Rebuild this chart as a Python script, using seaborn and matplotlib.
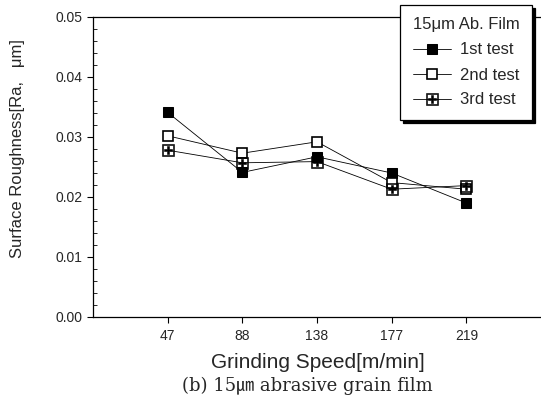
import pandas as pd
import numpy as np
import matplotlib.pyplot as plt
import seaborn as sns

# grinding speeds (plotted as equally spaced categories)
speeds = ['47', '88', '138', '177', '219']
test1 = [0.0341, 0.0241, 0.0267, 0.0240, 0.0190]
test2 = [0.0302, 0.0273, 0.0292, 0.0224, 0.0213]
test3 = [0.0278, 0.0257, 0.0259, 0.0213, 0.0219]

pos = np.arange(1, len(speeds) + 1)
df = pd.DataFrame({'pos': pos, '1st test': test1, '2nd test': test2, '3rd test': test3})

sns.set_style('ticks')
plt.rcParams['font.family'] = ['Liberation Sans', 'DejaVu Sans']

fig = plt.figure(figsize=(5.41, 3.96), dpi=100)
ax = fig.add_axes([93 / 541, 79 / 396, 1 - 93 / 541, 300 / 396])

styles = {
    '1st test': dict(marker='s', markerfacecolor='black', markeredgecolor='black', markersize=7),
    '2nd test': dict(marker='s', markerfacecolor='white', markeredgecolor='black', markersize=7,
                     markeredgewidth=1.2),
    '3rd test': dict(marker='$\\boxplus$', markerfacecolor='black', markeredgecolor='black',
                     markersize=9, markeredgewidth=0.4),
}
for name, st in styles.items():
    sns.lineplot(data=df, x='pos', y=name, ax=ax, color='black', linewidth=0.6,
                 label=name, **st)

ax.set_xlim(0, 6)
ax.set_ylim(0, 0.05)
ax.set_xticks(pos)
ax.set_xticklabels(speeds)
ax.set_yticks(np.arange(0, 0.051, 0.01))
ax.set_yticklabels([f'{v:.2f}' for v in np.arange(0, 0.051, 0.01)])
ax.set_yticks(np.arange(0, 0.0501, 0.002), minor=True)
ax.tick_params(axis='both', labelsize=10, direction='out', length=4, width=0.8, color='black')
ax.tick_params(axis='x', pad=5)
ax.tick_params(axis='y', which='minor', direction='in', length=3, width=0.7)
ax.tick_params(axis='x', which='minor', bottom=False)
for s in ['left', 'bottom', 'top']:
    ax.spines[s].set_color('black')
    ax.spines[s].set_linewidth(0.9)
ax.spines['right'].set_visible(False)

ax.set_xlabel('Grinding Speed[m/min]', fontsize=15)
ax.xaxis.set_label_coords((318 - 93) / 448, -(363 - 317) / 300)
ax.set_ylabel('Surface Roughness[Ra,   \u03bcm]', fontsize=12)
ax.yaxis.set_label_coords((18 - 93) / 448, (317 - 149) / 300)
ax.xaxis.label.set_va('center')
ax.yaxis.label.set_va('center')

leg = ax.legend(title='15\u03bcm Ab. Film', loc='upper right',
                bbox_to_anchor=(532 / 541, 1 - 5 / 396), bbox_transform=fig.transFigure,
                fancybox=False, edgecolor='black', framealpha=1,
                shadow={'color': 'black', 'alpha': 1, 'ox': 2, 'oy': -2},
                fontsize=12, title_fontsize=12, handlelength=2.3, handletextpad=0.5,
                labelspacing=0.6, borderpad=0.75, borderaxespad=0)
leg.get_frame().set_linewidth(0.9)

fig.text(307 / 541, 1 - 386 / 396, '(b) 15\u339b abrasive grain film', ha='center', va='center',
         fontsize=13, family=['DejaVu Serif', 'Noto Sans CJK KR'])

fig.savefig('out.png', dpi=100)
